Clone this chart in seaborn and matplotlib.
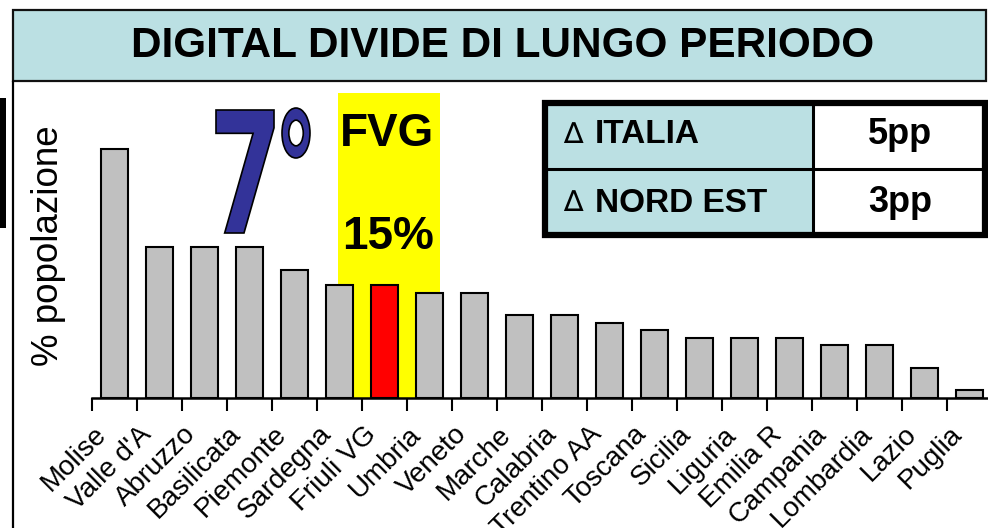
import matplotlib
matplotlib.use("Agg")
import matplotlib.pyplot as plt
import seaborn as sns
from matplotlib.patches import Rectangle, PathPatch
from matplotlib.lines import Line2D
from matplotlib.textpath import TextPath
from matplotlib.font_manager import FontProperties
from matplotlib.transforms import Affine2D, ScaledTranslation
from matplotlib.ticker import FixedLocator

# data
regions = ["Molise", "Valle d'A", "Abruzzo", "Basilicata", "Piemonte", "Sardegna",
           "Friuli VG", "Umbria", "Veneto", "Marche", "Calabria", "Trentino AA",
           "Toscana", "Sicilia", "Liguria", "Emilia R", "Campania", "Lombardia",
           "Lazio", "Puglia"]
values = [33, 20, 20, 20, 17, 15, 15, 14, 14, 11, 11, 10, 9, 8, 8, 8, 7, 7, 4, 1]
highlight = "Friuli VG"
table_labels = ["ITALIA", "NORD EST"]
table_values = ["5pp", "3pp"]

W, H = 988, 528
GREY = "#c0c0c0"
LIGHTBLUE = "#bbe0e3"

sns.set_style("white")
plt.rcParams["font.family"] = ["Liberation Sans", "DejaVu Sans"]
plt.rcParams["text.color"] = "black"
plt.rcParams["xtick.color"] = "black"

fig = plt.figure(figsize=(W / 100, H / 100), dpi=100)


def fx(x):
    return x / W


def fy(y):
    return 1 - y / H


ax = fig.add_axes([fx(91.5), fy(398), 901 / W, (398 - 93) / H])

colors = ["red" if r == highlight else GREY for r in regions]
sns.barplot(x=regions, y=values, hue=regions, palette=colors, legend=False,
            width=0.6, edgecolor="black", linewidth=1.5, saturation=1, ax=ax)

# yellow highlight behind FVG
i = regions.index(highlight)
ax.add_patch(Rectangle((i - 1.03, 0), 2.26, 40.5, facecolor="#ffff00",
                       edgecolor="none", zorder=0.5))

ax.set_xlim(-0.5, len(regions) - 0.5)
ax.set_ylim(0, 40.5)
for s in ["top", "right", "left"]:
    ax.spines[s].set_visible(False)
ax.spines["bottom"].set_linewidth(1.8)
ax.spines["bottom"].set_color("black")
ax.set_yticks([])
ax.set_ylabel("")
ax.set_xlabel("")
ax.xaxis.set_minor_locator(FixedLocator([k - 0.5 for k in range(len(regions) + 1)]))
ax.tick_params(axis="x", which="minor", length=9, width=1.5, color="black", bottom=True)
ax.tick_params(axis="x", which="major", length=0, pad=14, labelsize=20,
               labelcolor="black")
shift = ScaledTranslation(-12 / 100, -13 / 100, fig.dpi_scale_trans)
for lab in ax.get_xticklabels():
    lab.set_rotation(45)
    lab.set_ha("right")
    lab.set_va("center")
    lab.set_rotation_mode("anchor")
    lab.set_transform(lab.get_transform() + shift)

# y label
fig.text(fx(48), fy(246), "% popolazione", rotation=90, ha="center", va="center",
         fontsize=26.5)

# title box
fig.add_artist(Rectangle((fx(13), fy(81)), fx(986) - fx(13), fy(10) - fy(81),
                         facecolor=LIGHTBLUE, edgecolor="#111111", linewidth=1.6,
                         transform=fig.transFigure))
fig.text(fx(503), fy(46), "DIGITAL DIVIDE DI LUNGO PERIODO", ha="center",
         va="center", fontsize=30.4, fontweight="bold")
fig.add_artist(Line2D([fx(13), fx(13)], [fy(81), 0], color="black", linewidth=1.6,
                      transform=fig.transFigure))
# black bar at left edge
fig.add_artist(Rectangle((0, fy(228)), fx(6), fy(98) - fy(228), facecolor="black",
                         edgecolor="none", transform=fig.transFigure))


def glyph(s, x0, y0, x1, y1, **kw):
    tp = TextPath((0, 0), s, size=100,
                  prop=FontProperties(family="DejaVu Sans", weight="bold"))
    ext = tp.get_extents()
    tr = (Affine2D().translate(-ext.x0, -ext.y0)
          .scale((x1 - x0) / ext.width, (y1 - y0) / ext.height)
          .translate(x0, H - y1).scale(1 / W, 1 / H))
    fig.add_artist(PathPatch(tr.transform_path(tp), transform=fig.transFigure, **kw))


glyph("7", 216, 110, 274, 233, facecolor="#333399", edgecolor="black", linewidth=1.2)
glyph("\u00b0", 282, 108, 310, 158, facecolor="#333399", edgecolor="black", linewidth=1.2)

fig.text(fx(387), fy(134), "FVG", ha="center", va="center", fontsize=33,
         fontweight="bold")
fig.text(fx(388), fy(237), "15%", ha="center", va="center", fontsize=33,
         fontweight="bold")

# table
tx0, tx1, tmid = 545, 985, 813
ty0, ty1, tymid = 103, 235, 169
fig.add_artist(Rectangle((fx(tx0), fy(ty1)), fx(tmid) - fx(tx0), fy(ty0) - fy(ty1),
                         facecolor=LIGHTBLUE, edgecolor="none", transform=fig.transFigure))
fig.add_artist(Rectangle((fx(tx0), fy(ty1)), fx(tx1) - fx(tx0), fy(ty0) - fy(ty1),
                         facecolor="none", edgecolor="black", linewidth=4.5,
                         transform=fig.transFigure))
fig.add_artist(Line2D([fx(tmid), fx(tmid)], [fy(ty0), fy(ty1)], color="black",
                      linewidth=2.2, transform=fig.transFigure))
fig.add_artist(Line2D([fx(tx0), fx(tx1)], [fy(tymid), fy(tymid)], color="black",
                      linewidth=2.2, transform=fig.transFigure))
for k, (lab, val) in enumerate(zip(table_labels, table_values)):
    yc = [135, 203][k]
    fig.text(fx(563), fy(yc), "\u2206", ha="left", va="center", fontsize=21,
             family="DejaVu Sans")
    fig.text(fx(595), fy(yc), lab, ha="left", va="center", fontsize=24,
             fontweight="bold")
    fig.text(fx(900), fy(yc), val, ha="center", va="center", fontsize=26,
             fontweight="bold")

fig.savefig("out.png", dpi=100)
